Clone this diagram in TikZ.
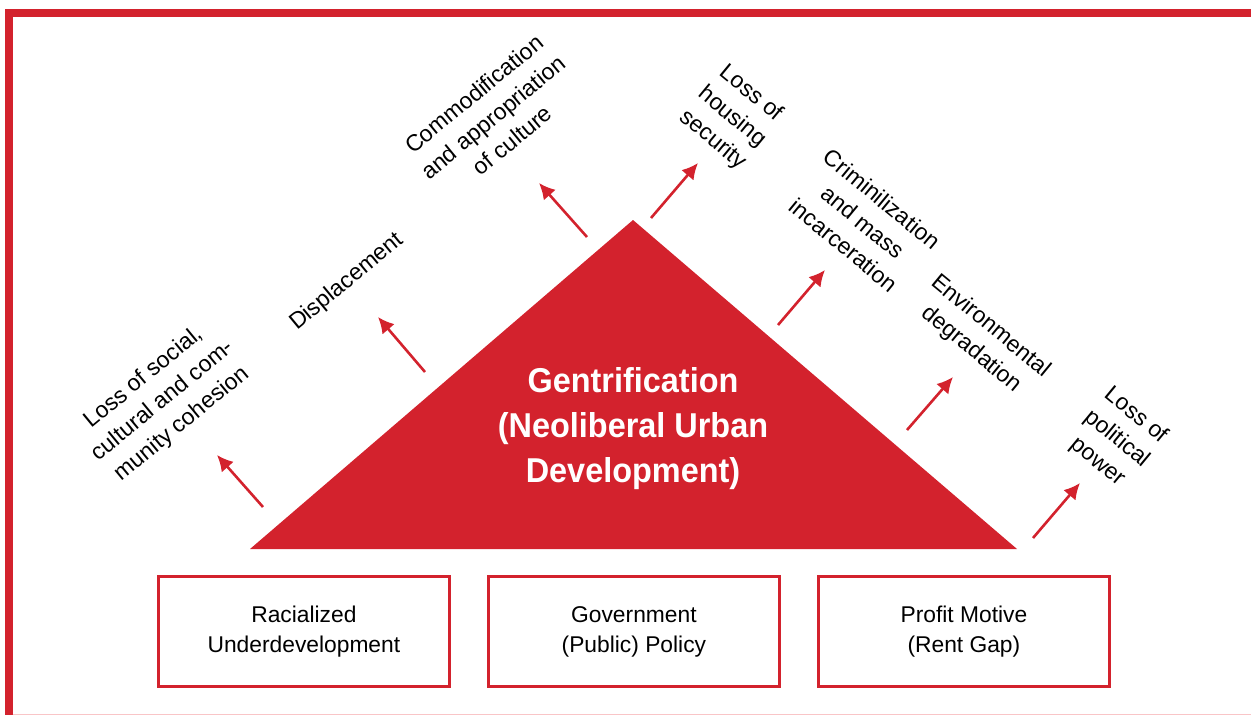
\documentclass[tikz,border=0pt]{standalone}
\usepackage{fontspec}
\setmainfont{Liberation Sans}
\newfontfamily\condfont[FakeStretch=0.94]{Liberation Sans}
\usetikzlibrary{positioning,arrows.meta}
\definecolor{gred}{HTML}{D3222D}
\definecolor{gpink}{HTML}{F9C5C7}

\begin{document}
\begin{tikzpicture}[x=1pt, y=-1pt]
\tikzstyle{cause}=[rectangle, draw=gred, line width=2.6pt, outer sep=0pt, minimum width=291pt, minimum height=110pt, align=center, font=\fontsize{22.8}{30}\selectfont, node distance=39pt]
\tikzstyle{effect}=[align=center, inner sep=0pt, font=\fontsize{23}{30}\selectfont]
\tikzstyle{connect}=[-{Latex[length=16pt,width=16pt]}, draw=gred, line width=2.6pt]
\useasboundingbox (0,0) rectangle (1251,715);

% 1. Frame
%%%%%%%%%%
\draw[gred, line width=8pt] (8.6,715) -- (8.6,13) -- (1251,13);
\draw[gpink, line width=1.2pt] (12.7,714.4) -- (1251,714.4);

% 2. Triangle
%%%%%%%%%%%%%
\coordinate (apex) at (633,220);
\coordinate (baseL) at (250,549);
\coordinate (baseR) at (1017,549);
\fill[gred] (baseL) -- (apex) -- (baseR) -- cycle;
\node[text=white, align=center, font=\condfont\bfseries\fontsize{34.5}{45}\selectfont] (gent) at (633,429) {Gentrification\\(Neoliberal Urban\\Development)};

% 3. Causes
%%%%%%%%%%%
\node[cause] (racial) at (303.9,631.7) {Racialized\\Underdevelopment};
\node[cause] (policy) [right=of racial] {Government\\(Public) Policy};
\node[cause] (profit) [right=of policy] {Profit Motive\\(Rent Gap)};

% 4. Effects
%%%%%%%%%%%%
\node[effect, rotate=39.5] (cohesion) at (163,401) {Loss of social,\\cultural and com-\\munity cohesion};
\node[effect, rotate=39.5] (displace) at (347,282) {Displacement};
\node[effect, rotate=39.5] (culture) at (493,117) {Commodification\\and appropriation\\of culture};
\node[effect, rotate=-39.5] (housing) at (732,117) {Loss of\\housing\\security};
\node[effect, rotate=-39.5] (crime) at (863,222) {Criminilization\\and mass\\incarceration};
\node[effect, rotate=-39.5] (environ) at (981,338) {Environmental\\degradation};
\node[effect, rotate=-39.5] (power) at (1117,439) {Loss of\\political\\power};

% 5. Arrows
%%%%%%%%%%%
\coordinate (t1) at (263,507); \coordinate (h1) at (217,455);
\coordinate (t2) at (425,372); \coordinate (h2) at (378,317);
\coordinate (t3) at (587,237); \coordinate (h3) at (539,183);
\coordinate (t4) at (651,218); \coordinate (h4) at (698,163);
\coordinate (t5) at (778,325); \coordinate (h5) at (825,270);
\coordinate (t6) at (907,430); \coordinate (h6) at (953,377);
\coordinate (t7) at (1033,538); \coordinate (h7) at (1080,483);
\path (t1) edge [connect] (h1)
      (t2) edge [connect] (h2)
      (t3) edge [connect] (h3)
      (t4) edge [connect] (h4)
      (t5) edge [connect] (h5)
      (t6) edge [connect] (h6)
      (t7) edge [connect] (h7);

\end{tikzpicture}
\end{document}
